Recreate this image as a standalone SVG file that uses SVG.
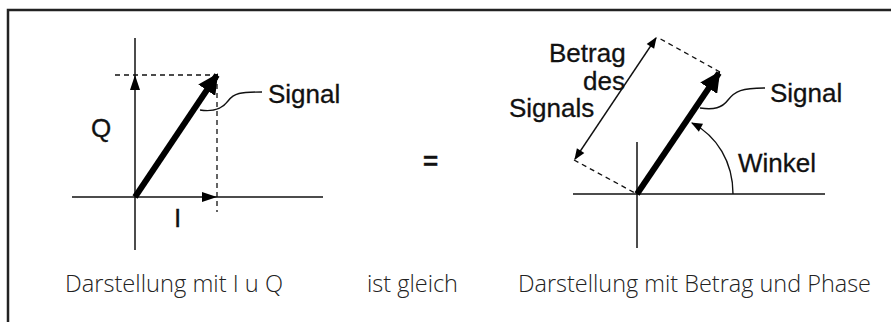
<svg xmlns="http://www.w3.org/2000/svg" width="891" height="322" viewBox="0 0 891 322">
<style>
.ax{stroke:#111;stroke-width:1.5;fill:none}
.ds{stroke:#111;stroke-width:1.3;fill:none;stroke-dasharray:5,4}
.vec{stroke:#000;stroke-width:6;fill:none}
.thin{stroke:#111;stroke-width:1.4;fill:none}
.lbl{font-family:"Liberation Sans",Arial,sans-serif;font-size:26px;fill:#111;stroke:#111;stroke-width:0.3}
.cap{font-family:"Open Sans","Noto Sans",sans-serif;font-weight:300;font-size:24px;fill:#222}
</style>
<defs>
<marker id="big" viewBox="0 0 10 10" refX="9" refY="5" markerWidth="3.4" markerHeight="3.4" orient="auto" markerUnits="strokeWidth"><path d="M0,0 L10,5 L0,10 Z" fill="#000"/></marker>
<marker id="sm" viewBox="0 0 10 10" refX="9" refY="5" markerWidth="9" markerHeight="8" orient="auto" markerUnits="strokeWidth"><path d="M0,1 L10,5 L0,9 Z" fill="#000"/></marker>
<marker id="sms" viewBox="0 0 10 10" refX="1" refY="5" markerWidth="9" markerHeight="8" orient="auto" markerUnits="strokeWidth"><path d="M10,1 L0,5 L10,9 Z" fill="#000"/></marker>
</defs>
<rect x="8" y="10" width="900" height="330" fill="#fff" stroke="#222" stroke-width="2.5"/>
<g id="connectors">
<line class="ax" x1="135" y1="38" x2="135" y2="250"/>
<line class="ax" x1="72" y1="197" x2="323" y2="197"/>
<line class="ds" x1="115" y1="75" x2="217" y2="75"/>
<line class="ds" x1="217" y1="75" x2="217" y2="212"/>
<path d="M135,75 L130,90 L140,90 Z" fill="#000"/>
<path d="M217,197 L202,192 L202,202 Z" fill="#000"/>
<line class="vec" x1="135" y1="197" x2="217" y2="75" marker-end="url(#big)"/>
<path class="thin" d="M200,110 C214,112 222,109 228,101 C234,93 240,92 262,92"/>
<line class="ax" x1="637" y1="142" x2="637" y2="248"/>
<line class="ax" x1="573" y1="194" x2="825" y2="194"/>
<line class="ds" x1="720" y1="72" x2="657" y2="37"/>
<line class="ds" x1="574" y1="160" x2="635" y2="193"/>
<line class="thin" x1="656" y1="38" x2="575" y2="159" marker-start="url(#sms)" marker-end="url(#sm)"/>
<line class="vec" x1="637" y1="194" x2="719" y2="73" marker-end="url(#big)"/>
<path class="thin" d="M700,108 C714,110 722,108 728,100 C735,91 742,88 765,88"/>
<path class="thin" d="M733,194 C733,162 717,136 692,123" marker-end="url(#sm)"/>
</g>
<g id="labels">
<text class="lbl" x="268" y="103">Signal</text>
<text class="lbl" x="91" y="137">Q</text>
<text class="lbl" x="174" y="227">I</text>
<text class="lbl" x="423" y="170" font-size="38" font-weight="bold">=</text>
<text class="lbl" x="549" y="62" font-size="24">Betrag</text>
<text class="lbl" x="583" y="90" font-size="24">des</text>
<text class="lbl" x="509" y="117" font-size="24">Signals</text>
<text class="lbl" x="770" y="102">Signal</text>
<text class="lbl" x="738" y="172">Winkel</text>
</g>
<g id="captions">
<text class="cap" x="65" y="292" textLength="218" lengthAdjust="spacingAndGlyphs">Darstellung mit I u Q</text>
<text class="cap" x="367" y="292" textLength="91" lengthAdjust="spacingAndGlyphs">ist gleich</text>
<text class="cap" x="518" y="292" textLength="353" lengthAdjust="spacingAndGlyphs">Darstellung mit Betrag und Phase</text>
</g>
</svg>
